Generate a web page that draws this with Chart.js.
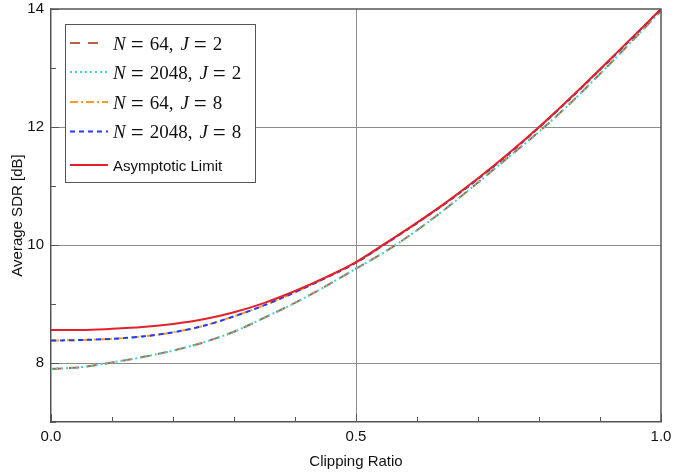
<!DOCTYPE html>
<html>
<head>
<meta charset="utf-8">
<script src="https://cdn.jsdelivr.net/npm/chart.js@4/dist/chart.umd.min.js"></script>
<style>
html, body { margin: 0; padding: 0; background: #fff; }
#wrap { width: 673px; height: 474px; }
</style>
</head>
<body>
<div id="wrap"><canvas id="sdrChart" width="673" height="474"></canvas></div>
<script>
// Clipping ratio samples and the average SDR [dB] read for each curve.
var clipRatio = [0, 0.05, 0.1, 0.15, 0.2, 0.25, 0.3, 0.35, 0.4, 0.45, 0.5,
                 0.55, 0.6, 0.65, 0.7, 0.75, 0.8, 0.85, 0.9, 0.95, 1.0];
var sdrN64J2   = [7.90, 7.93, 8.01, 8.10, 8.21, 8.35, 8.53, 8.77, 9.02, 9.30, 9.60,
                  9.90, 10.25, 10.64, 11.06, 11.49, 11.92, 12.39, 12.90, 13.43, 13.97];
var sdrN2048J2 = [7.90, 7.93, 8.01, 8.10, 8.21, 8.35, 8.53, 8.77, 9.02, 9.30, 9.60,
                  9.90, 10.25, 10.64, 11.06, 11.49, 11.92, 12.39, 12.90, 13.43, 13.97];
var sdrN64J8   = [8.38, 8.39, 8.41, 8.45, 8.52, 8.63, 8.79, 8.98, 9.20, 9.44, 9.70,
                  10.03, 10.37, 10.73, 11.12, 11.54, 11.99, 12.47, 12.97, 13.48, 14.0];
var sdrN2048J8 = [8.38, 8.39, 8.41, 8.45, 8.52, 8.63, 8.79, 8.98, 9.20, 9.44, 9.70,
                  10.03, 10.37, 10.73, 11.12, 11.54, 11.99, 12.47, 12.97, 13.48, 14.0];
var sdrLimit   = [8.56, 8.56, 8.58, 8.61, 8.66, 8.74, 8.86, 9.02, 9.22, 9.45, 9.71,
                  10.04, 10.38, 10.74, 11.13, 11.55, 12.00, 12.48, 12.98, 13.49, 14.0];

var xTickLabels = [0, 0.5, 1];
var yTickLabels = [8, 10, 12, 14];
var xGrid = [0.5];
var yGrid = [8, 10, 12];

// Legend entries: math parts (i = italic, e = equals sign, g = gap after).
var legendEntries = [
    { end: 99, parts: [{t: 'N', i: 1, g: 5}, {t: '=', e: 1, g: 6}, {t: '64,', g: 7}, {t: 'J', i: 1, g: 5}, {t: '=', e: 1, g: 6}, {t: '2'}] },
    { end: 108, parts: [{t: 'N', i: 1, g: 5}, {t: '=', e: 1, g: 6}, {t: '2048,', g: 7}, {t: 'J', i: 1, g: 5}, {t: '=', e: 1, g: 6}, {t: '2'}] },
    { end: 108, parts: [{t: 'N', i: 1, g: 5}, {t: '=', e: 1, g: 6}, {t: '64,', g: 7}, {t: 'J', i: 1, g: 5}, {t: '=', e: 1, g: 6}, {t: '8'}] },
    { end: 108, parts: [{t: 'N', i: 1, g: 5}, {t: '=', e: 1, g: 6}, {t: '2048,', g: 7}, {t: 'J', i: 1, g: 5}, {t: '=', e: 1, g: 6}, {t: '8'}] },
    { end: 108, text: 'Asymptotic Limit' }
];

var FRAME = '#555555';
var GRID = '#8c8c8c';
var SANS = '"Liberation Sans", Arial, Helvetica, sans-serif';
var SERIF = '"Liberation Serif", "Times New Roman", serif';

function toPoints(ys) {
    return ys.map(function (y, k) { return {x: clipRatio[k], y: y}; });
}

function curve(label, ys, color, dash, order) {
    return {
        label: label,
        data: toPoints(ys),
        borderColor: color,
        backgroundColor: color,
        borderWidth: 2,
        borderDash: dash,
        pointRadius: 0,
        cubicInterpolationMode: 'monotone',
        fill: false,
        order: order
    };
}

var datasets = [
    curve('N = 64, J = 2', sdrN64J2, '#b9643c', [10, 8], 4),
    curve('N = 2048, J = 2', sdrN2048J2, '#3fd0cf', [2, 3], 3),
    curve('N = 64, J = 8', sdrN64J8, '#fa9a1e', [8, 3, 2, 3], 2),
    curve('N = 2048, J = 8', sdrN2048J8, '#1f3cff', [5, 4], 1),
    curve('Asymptotic Limit', sdrLimit, '#e3212a', [], 0)
];

// Frame on top/right, inward tick marks, and the boxed legend.
var decor = {
    id: 'decor',
    afterDatasetsDraw: function (chart) {
        var ctx = chart.ctx;
        var a = chart.chartArea;
        var xs = chart.scales.x, ys = chart.scales.y;
        ctx.save();
        ctx.strokeStyle = FRAME;
        ctx.lineWidth = 1.5;
        ctx.beginPath();
        ctx.moveTo(a.left, a.top);
        ctx.lineTo(a.right, a.top);
        ctx.lineTo(a.right, a.bottom);
        ctx.stroke();

        ctx.lineWidth = 1;
        ctx.beginPath();
        for (var v = 0; v <= 10; v++) {
            var px = Math.round(xs.getPixelForValue(v / 10)) + 0.5;
            var len = (v % 5 === 0) ? 8 : 5;
            ctx.moveTo(px, a.bottom);
            ctx.lineTo(px, a.bottom - len);
        }
        for (var w = 7; w <= 14; w++) {
            var py = Math.round(ys.getPixelForValue(w)) + 0.5;
            var l2 = (w % 2 === 0) ? 8 : 5;
            ctx.moveTo(a.left, py);
            ctx.lineTo(a.left + l2, py);
        }
        ctx.stroke();

        // legend box
        var bx = 65.5, by = 24.5, bw = 190, bh = 158;
        ctx.fillStyle = '#ffffff';
        ctx.fillRect(bx, by, bw, bh);
        ctx.strokeStyle = FRAME;
        ctx.lineWidth = 1;
        ctx.strokeRect(bx, by, bw, bh);

        var rows = [43, 72, 102, 131.5, 165];
        legendEntries.forEach(function (e, k) {
            var ds = datasets[k];
            var y = rows[k];
            ctx.strokeStyle = ds.borderColor;
            ctx.lineWidth = 2;
            ctx.setLineDash(ds.borderDash);
            ctx.beginPath();
            ctx.moveTo(70, y);
            ctx.lineTo(e.end, y);
            ctx.stroke();
            ctx.setLineDash([]);

            ctx.fillStyle = '#111111';
            ctx.textBaseline = 'alphabetic';
            ctx.textAlign = 'left';
            var x = 113;
            if (e.parts) {
                e.parts.forEach(function (p) {
                    var dy = 6.5;
                    if (p.e) { ctx.font = '23px ' + SERIF; dy = 8.5; }
                    else ctx.font = (p.i ? 'italic ' : '') + '19px ' + SERIF;
                    ctx.fillText(p.t, x, y + dy);
                    x += ctx.measureText(p.t).width + (p.g || 0);
                });
            } else {
                ctx.font = '15px ' + SANS;
                ctx.fillText(e.text, x, y + 5.5);
            }
        });
        ctx.restore();
    }
};

var ctx = document.getElementById('sdrChart').getContext('2d');
var chart = new Chart(ctx, {
    type: 'line',
    data: { datasets: datasets },
    options: {
        responsive: false,
        animation: false,
        devicePixelRatio: 1,
        events: [],
        layout: { padding: { top: 9, right: 12, left: 0, bottom: 0 } },
        plugins: { legend: { display: false }, tooltip: { enabled: false } },
        scales: {
            x: {
                type: 'linear',
                min: 0,
                max: 1,
                afterFit: function (s) { s.height = 52; s.paddingLeft = 0; s.paddingRight = 0; },
                afterBuildTicks: function (s) {
                    s.ticks = xTickLabels.map(function (v) { return {value: v}; });
                },
                ticks: {
                    color: '#111111',
                    font: { family: SANS, size: 15 },
                    padding: 6,
                    maxRotation: 0,
                    callback: function (v) { return v.toFixed(1); }
                },
                grid: {
                    drawTicks: false,
                    color: function (c) {
                        return (c.tick && xGrid.indexOf(c.tick.value) >= 0) ? GRID : 'rgba(0,0,0,0)';
                    }
                },
                border: { display: true, color: FRAME, width: 1.5 },
                title: {
                    display: true,
                    text: 'Clipping Ratio',
                    color: '#111111',
                    font: { family: SANS, size: 15 },
                    padding: { top: 4, bottom: 3 }
                }
            },
            y: {
                type: 'linear',
                min: 7,
                max: 14,
                afterFit: function (s) { s.width = 51; s.paddingTop = 0; s.paddingBottom = 0; },
                afterBuildTicks: function (s) {
                    s.ticks = yTickLabels.map(function (v) { return {value: v}; });
                },
                ticks: {
                    color: '#111111',
                    font: { family: SANS, size: 15 },
                    padding: 7
                },
                grid: {
                    drawTicks: false,
                    color: function (c) {
                        return (c.tick && yGrid.indexOf(c.tick.value) >= 0) ? GRID : 'rgba(0,0,0,0)';
                    }
                },
                border: { display: true, color: FRAME, width: 1.5 },
                title: {
                    display: true,
                    text: 'Average SDR [dB]',
                    color: '#111111',
                    font: { family: SANS, size: 15 },
                    padding: { top: 9, bottom: 4 }
                }
            }
        }
    },
    plugins: [decor]
});
</script>
</body>
</html>
